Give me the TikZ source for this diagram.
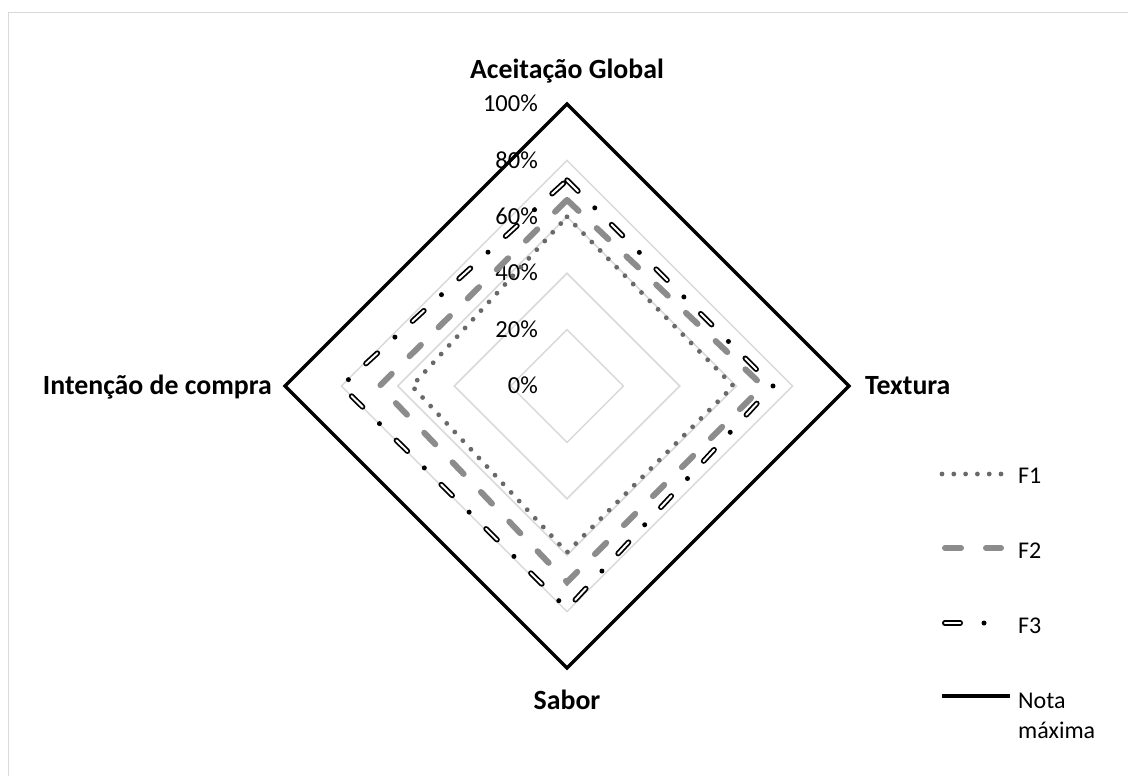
\documentclass[tikz,border=0pt]{standalone}
\usepackage{fontspec}
\setmainfont{Carlito}
\definecolor{gridc}{RGB}{217,217,217}
\definecolor{framec}{RGB}{217,217,217}
\definecolor{f1c}{RGB}{105,105,105}
\definecolor{f2c}{RGB}{140,140,140}
\tikzset{
 gridline/.style={draw=gridc, line width=1.5pt},
 f1line/.style={draw=f1c, line width=4.8pt, line cap=round, dash pattern=on 0pt off 11.8pt},
 f2line/.style={draw=f2c, line width=6pt, line cap=round, dash pattern=on 16pt off 25pt},
 f3outer/.style={draw=black, line width=5.5pt, line cap=round, dash pattern=on 15.5pt off 47.5pt},
 f3inner/.style={draw=white, line width=2pt, line cap=round, dash pattern=on 15.5pt off 47.5pt},
 f3dot/.style={draw=black, line width=5pt, line cap=round, dash pattern=on 0pt off 63pt, dash phase=23.75pt},
 maxline/.style={draw=black, line width=3.5pt, line join=miter},
 axislabel/.style={font=\fontsize{27.8}{32}\selectfont\bfseries, inner sep=0pt, anchor=base},
 ticklabel/.style={font=\fontsize{24.5}{29}\selectfont, inner sep=0pt, anchor=base east},
 legendlabel/.style={font=\fontsize{24}{30}\selectfont, inner sep=0pt, anchor=base west},
}
\begin{document}
\begin{tikzpicture}[x=1pt,y=-1pt]
\useasboundingbox (0,0) rectangle (1128,776);
\fill[white] (0,0) rectangle (1128,776);
\draw[framec, line width=1.5pt] (8.5,12.5) rectangle (1140,790);
% grid
\foreach \r in {56.4,112.8,169.2,225.6}
  \draw[gridline] (567,{386-\r}) -- ({567+\r},386) -- (567,{386+\r}) -- ({567-\r},386) -- cycle;
% tick labels
\node[ticklabel] (t0) at (538,393.6) {0\%};
\node[ticklabel] (t20) at (538,337.2) {20\%};
\node[ticklabel] (t40) at (538,280.8) {40\%};
\node[ticklabel] (t60) at (538,224.4) {60\%};
\node[ticklabel] (t80) at (538,168) {80\%};
\node[ticklabel] (t100) at (538,111.6) {100\%};
% data coordinates
\coordinate (f1t) at (567,216.8);
\coordinate (f1r) at (733.4,386);
\coordinate (f1b) at (567,552.4);
\coordinate (f1l) at (411.9,386);
\coordinate (f2t) at (567,199.9);
\coordinate (f2r) at (763,386);
\coordinate (f2b) at (567,582);
\coordinate (f2l) at (379.5,386);
\coordinate (f3t) at (567,180.1);
\coordinate (f3r) at (773,386);
\coordinate (f3b) at (567,608.8);
\coordinate (f3l) at (341.4,386);
\coordinate (mt) at (567,104);
\coordinate (mr) at (849,386);
\coordinate (mb) at (567,668);
\coordinate (ml) at (285,386);
% series
\draw[f1line] (f1t) -- (f1r) -- (f1b) -- (f1l) -- cycle;
\draw[f2line] (f2t) -- (f2r) -- (f2b) -- (f2l) -- cycle;
\draw[f3outer] (f3t) -- (f3r) -- (f3b) -- (f3l) -- cycle;
\draw[f3inner] (f3t) -- (f3r) -- (f3b) -- (f3l) -- cycle;
\draw[f3dot] (f3t) -- (f3r) -- (f3b) -- (f3l) -- cycle;
\draw[maxline] (mt) -- (mr) -- (mb) -- (ml) -- cycle;
% axis labels
\node[axislabel] (ag) at (567,79) {Aceitação Global};
\node[axislabel, anchor=base west] (tx) at (865,394) {Textura};
\node[axislabel] (sb) at (567,709) {Sabor};
\node[axislabel, anchor=base east] (ic) at (272,394) {Intenção de compra};
% legend
\coordinate (l1a) at (942,474); \coordinate (l1b) at (1006,474);
\coordinate (l2a) at (945,548); \coordinate (l2b) at (1001,548);
\coordinate (l3a) at (944.75,623); \coordinate (l3b) at (990,623);
\coordinate (l4a) at (942,696); \coordinate (l4b) at (1010,696);
\draw[f1line] (l1a) -- (l1b);
\draw[f2line] (l2a) -- (l2b);
\draw[f3outer] (l3a) -- (l3b);
\draw[f3inner] (l3a) -- (l3b);
\draw[f3dot] (l3a) -- (l3b);
\draw[maxline] (l4a) -- (l4b);
\node[legendlabel] (lf1) at (1018,483) {F1};
\node[legendlabel] (lf2) at (1018,558) {F2};
\node[legendlabel] (lf3) at (1018,633) {F3};
\node[legendlabel] (lnota) at (1018,708) {Nota};
\node[legendlabel] (lmax) at (1018,738) {máxima};
\end{tikzpicture}
\end{document}
